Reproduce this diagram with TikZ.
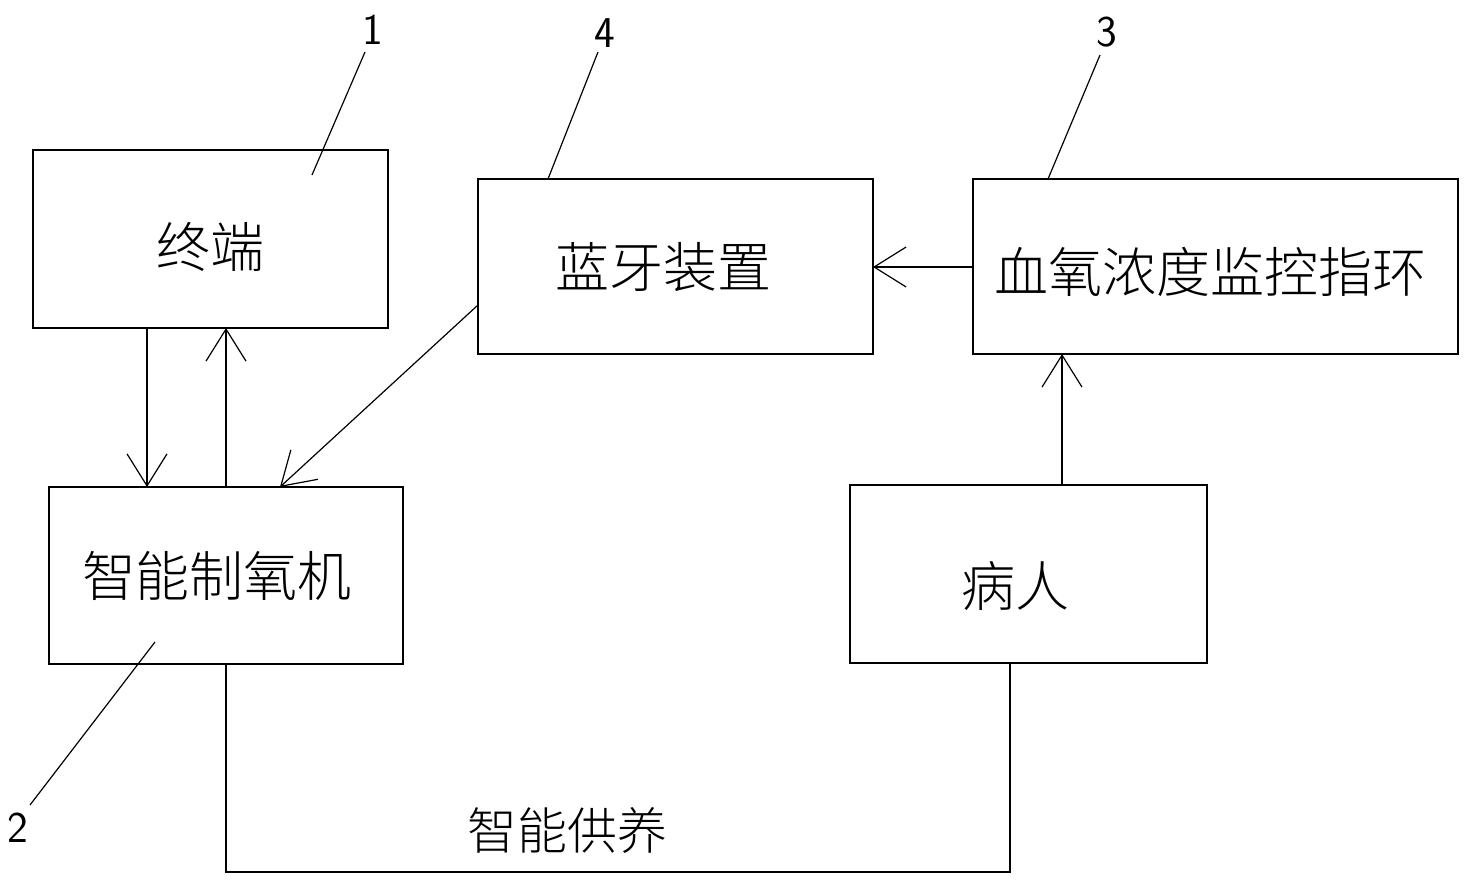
\documentclass[tikz,border=0pt]{standalone}
\usepackage{fontspec}
\newfontfamily\cjk{Noto Sans CJK SC}[UprightFont=* Light]
\usetikzlibrary{arrows.meta}
\begin{document}
\begin{tikzpicture}[x=0.5pt,y=-0.5pt,
  box/.style={draw,line width=0.7pt},
  lab/.style={font=\fontsize{27}{30}\selectfont\cjk},
  arr/.style={line width=0.6pt,-{Straight Barb[length=16pt,width=20pt,line width=0.6pt]}},
  ln/.style={line width=0.6pt},
  num/.style={font=\fontsize{22}{26}\selectfont\sffamily}]
\useasboundingbox[fill=white] (0,0) rectangle (1468,882);
\draw[box] (33,150) rectangle (388,328);
\node[lab] (t) at (210,247) {终端};
\draw[box] (478,179) rectangle (873,354);
\node[lab] (b) at (663,267) {蓝牙装置};
\draw[box] (973,179) rectangle (1458,354);
\node[lab] (x) at (1210,272) {血氧浓度监控指环};
\draw[box] (49,487) rectangle (403,664);
\node[lab] (z) at (217,576) {智能制氧机};
\draw[box] (850,485) rectangle (1207,663);
\node[lab] (p) at (1015,586) {病人};
\coordinate (t1) at (147,328); \coordinate (z1) at (147,487);
\coordinate (z2) at (226,487); \coordinate (t2) at (226,328);
\coordinate (b1) at (478,305); \coordinate (z3) at (280,487);
\coordinate (x1) at (973,267); \coordinate (b2) at (873,267);
\coordinate (p1) at (1062,485); \coordinate (x2) at (1062,354);
\draw[arr] (t1) -- (z1);
\draw[arr] (z2) -- (t2);
\draw[arr] (b1) -- (z3);
\draw[arr] (x1) -- (b2);
\draw[arr] (p1) -- (x2);
\coordinate (zb) at (226,664); \coordinate (pb) at (1010,663);
\draw[ln] (zb) -- (226,872) -- (1010,872) -- (pb);
\node[font=\fontsize{25}{28}\selectfont\cjk] (g) at (567,830) {智能供养};
\node[num] (n1) at (373,30) {1};
\node[num] (n4) at (605,33) {4};
\node[num] (n3) at (1107,32) {3};
\node[num] (n2) at (18,828) {2};
\draw[ln] (365,52) -- (312,175);
\draw[ln] (598,52) -- (548,179);
\draw[ln] (1100,55) -- (1048,179);
\draw[ln] (30,805) -- (155,642);
\end{tikzpicture}
\end{document}
